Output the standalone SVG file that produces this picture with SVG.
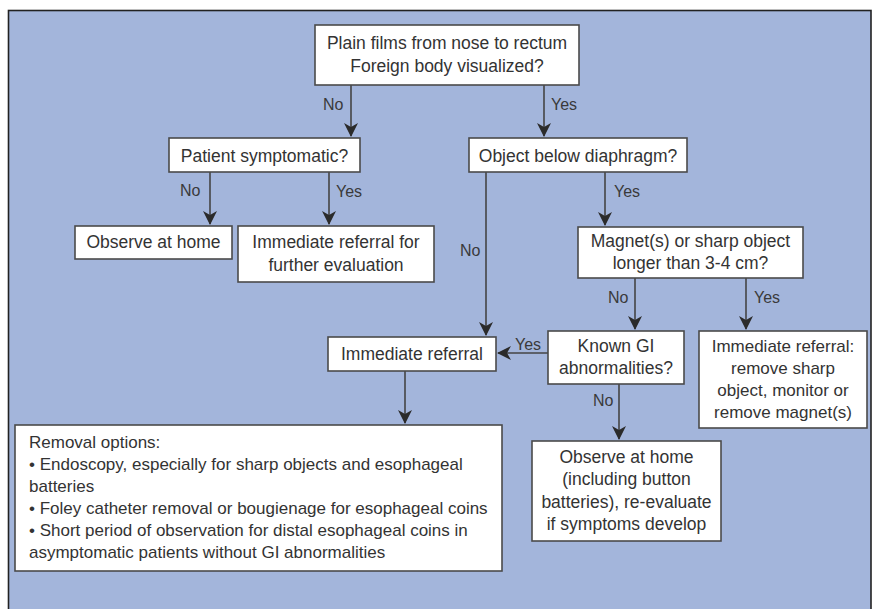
<svg xmlns="http://www.w3.org/2000/svg" width="873" height="609" viewBox="0 0 873 609">
<defs>
<marker id="ah" markerWidth="14" markerHeight="14" viewBox="0 0 14 14" refX="13" refY="7" orient="auto" markerUnits="userSpaceOnUse">
<path d="M0,0 L14,7 L0,14 L4,7 Z" fill="#2b2b2b"/>
</marker>
<style>
.bg{fill:#a3b5db;stroke:#222;stroke-width:1.6}
.box{fill:#fff;stroke:#4a4a4a;stroke-width:1.6}
text{font-family:"Liberation Sans",Arial,sans-serif;font-size:17.5px;fill:#333}
.c{text-anchor:middle}
.sm{font-size:17px}
.lbl{font-size:16px;fill:#3a3a3a}
.ln{stroke:#444;stroke-width:1.6;fill:none}
.arr{marker-end:url(#ah)}
</style>
</defs>
<rect width="873" height="609" fill="#ffffff"/>
<rect class="bg" x="8.5" y="10.5" width="862.5" height="610"/>

<g id="connectors">
<line class="ln arr" x1="351" y1="85" x2="351" y2="136"/>
<line class="ln arr" x1="544" y1="85" x2="544" y2="136"/>
<line class="ln arr" x1="210" y1="172" x2="210" y2="224"/>
<line class="ln arr" x1="329" y1="172" x2="329" y2="224"/>
<line class="ln arr" x1="605" y1="172" x2="605" y2="225"/>
<line class="ln arr" x1="486" y1="172" x2="486" y2="335"/>
<line class="ln arr" x1="635" y1="278" x2="635" y2="329"/>
<line class="ln arr" x1="746" y1="278" x2="746" y2="329"/>
<line class="ln arr" x1="548" y1="353" x2="498" y2="353"/>
<line class="ln arr" x1="405" y1="371" x2="405" y2="423"/>
<line class="ln arr" x1="619" y1="384" x2="619" y2="439"/>
<text class="lbl" x="323" y="110">No</text>
<text class="lbl" x="551" y="110">Yes</text>
<text class="lbl" x="180" y="196">No</text>
<text class="lbl" x="336" y="197">Yes</text>
<text class="lbl" x="614" y="197">Yes</text>
<text class="lbl" x="460" y="256">No</text>
<text class="lbl" x="608" y="303">No</text>
<text class="lbl" x="754" y="303">Yes</text>
<text class="lbl" x="515" y="350">Yes</text>
<text class="lbl" x="593" y="406">No</text>
</g>

<g id="n-plain">
<rect class="box" x="315" y="25" width="264" height="60"/>
<text class="c" x="447" y="49">Plain films from nose to rectum</text>
<text class="c" x="447" y="72">Foreign body visualized?</text>
</g>

<g id="n-symptomatic">
<rect class="box" x="169" y="138" width="191" height="34"/>
<text class="c" x="264.5" y="162">Patient symptomatic?</text>
</g>

<g id="n-diaphragm">
<rect class="box" x="469" y="138" width="218" height="34"/>
<text class="c" x="578" y="162">Object below diaphragm?</text>
</g>

<g id="n-observe1">
<rect class="box" x="75" y="226" width="157" height="33"/>
<text class="c" x="153.5" y="248">Observe at home</text>
</g>

<g id="n-referral-eval">
<rect class="box" x="238" y="226" width="196" height="56"/>
<text class="c" x="336" y="248">Immediate referral for</text>
<text class="c" x="336" y="271">further evaluation</text>
</g>

<g id="n-magnet">
<rect class="box" x="578" y="227" width="225" height="51"/>
<text class="c" x="690.5" y="247">Magnet(s) or sharp object</text>
<text class="c" x="690.5" y="269">longer than 3-4 cm?</text>
</g>

<g id="n-knowngi">
<rect class="box" x="548" y="331" width="136" height="53"/>
<text class="c" x="616" y="352">Known GI</text>
<text class="c" x="616" y="374">abnormalities?</text>
</g>

<g id="n-referral-remove">
<rect class="box" x="699" y="331" width="168" height="97"/>
<text class="c sm" x="783" y="352">Immediate referral:</text>
<text class="c sm" x="783" y="374">remove sharp</text>
<text class="c sm" x="783" y="396">object, monitor or</text>
<text class="c sm" x="783" y="418">remove magnet(s)</text>
</g>

<g id="n-referral">
<rect class="box" x="328" y="337" width="168" height="34"/>
<text class="c" x="412" y="360">Immediate referral</text>
</g>

<g id="n-removal">
<rect class="box" x="15" y="425" width="487" height="146"/>
<text class="sm" x="29" y="448">Removal options:</text>
<text class="sm" x="29" y="470">• Endoscopy, especially for sharp objects and esophageal</text>
<text class="sm" x="29" y="492">batteries</text>
<text class="sm" x="29" y="514">• Foley catheter removal or bougienage for esophageal coins</text>
<text class="sm" x="29" y="536">• Short period of observation for distal esophageal coins in</text>
<text class="sm" x="29" y="558">asymptomatic patients without GI abnormalities</text>
</g>

<g id="n-observe2">
<rect class="box" x="532" y="441" width="189" height="100"/>
<text class="c" x="626.5" y="463">Observe at home</text>
<text class="c" x="626.5" y="485">(including button</text>
<text class="c" x="626.5" y="508">batteries), re-evaluate</text>
<text class="c" x="626.5" y="530">if symptoms develop</text>
</g>
</svg>
